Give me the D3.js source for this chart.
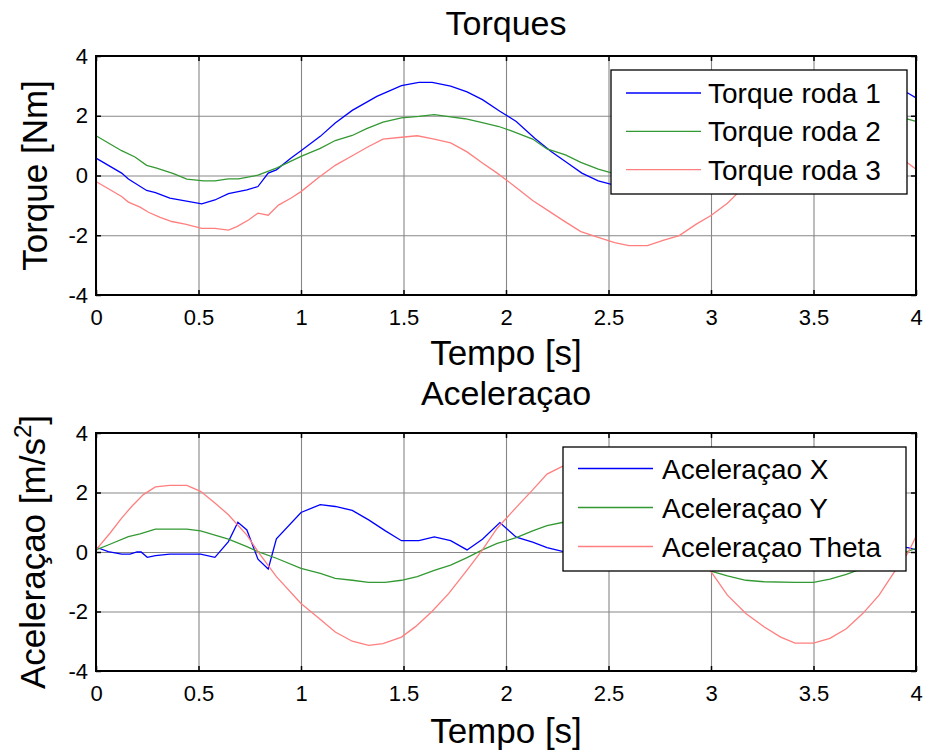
<!DOCTYPE html>
<html><head><meta charset="utf-8">
<script src="https://cdn.jsdelivr.net/npm/d3@7"></script>
<style>
body{margin:0;background:#fff}
svg{display:block}
text{font-family:"Liberation Sans",Arial,sans-serif;fill:#000}
</style>
</head><body>
<svg id="c" width="926" height="756"></svg>
<script>
// ---------- data ----------
const xTicks = [0, 0.5, 1, 1.5, 2, 2.5, 3, 3.5, 4];
const xTickLabels = ["0", "0.5", "1", "1.5", "2", "2.5", "3", "3.5", "4"];
const yTicks = [-4, -2, 0, 2, 4];
const yTickLabels = ["-4", "-2", "0", "2", "4"];

const torque1T = [0, 0.125, 0.158, 0.247, 0.29, 0.36, 0.516, 0.58, 0.646, 0.736, 0.79, 0.84, 0.88, 0.95, 1.0, 1.094, 1.167, 1.25, 1.37, 1.49, 1.575, 1.64, 1.73, 1.81, 1.885, 1.97, 2.05, 2.14, 2.22, 2.30, 2.37, 2.45, 2.51, 2.6, 2.75, 2.9, 3.05, 3.2, 3.35, 3.5, 3.65, 3.75, 3.85, 3.96, 4.0];
const torque1V = [0.58, 0.08, -0.12, -0.5, -0.57, -0.76, -0.95, -0.82, -0.61, -0.48, -0.37, 0.08, 0.19, 0.58, 0.83, 1.31, 1.76, 2.18, 2.65, 3.01, 3.12, 3.12, 2.99, 2.8, 2.54, 2.15, 1.81, 1.25, 0.8, 0.42, 0.08, -0.18, -0.29, -0.33, -0.15, 0.3, 0.9, 1.45, 1.9, 2.3, 2.9, 3.08, 3.0, 2.76, 2.6];

const torque2T = [0, 0.125, 0.19, 0.247, 0.296, 0.378, 0.443, 0.525, 0.58, 0.646, 0.695, 0.79, 0.88, 1.0, 1.094, 1.167, 1.25, 1.32, 1.40, 1.49, 1.575, 1.65, 1.73, 1.80, 1.89, 1.965, 2.02, 2.13, 2.20, 2.29, 2.365, 2.45, 2.51, 2.6, 2.7, 2.85, 3.0, 3.2, 3.4, 3.6, 3.75, 3.85, 3.96, 4.0];
const torque2V = [1.33, 0.83, 0.62, 0.34, 0.25, 0.06, -0.12, -0.18, -0.18, -0.11, -0.11, 0.01, 0.25, 0.64, 0.91, 1.17, 1.34, 1.57, 1.79, 1.93, 1.98, 2.04, 1.96, 1.9, 1.76, 1.64, 1.51, 1.22, 0.89, 0.69, 0.44, 0.21, 0.1, -0.05, -0.12, -0.05, 0.3, 0.9, 1.4, 1.8, 1.95, 1.95, 1.89, 1.81];

const torque3T = [0, 0.125, 0.158, 0.215, 0.256, 0.313, 0.37, 0.435, 0.516, 0.58, 0.646, 0.687, 0.744, 0.79, 0.84, 0.89, 0.95, 1.0, 1.086, 1.167, 1.25, 1.33, 1.40, 1.49, 1.567, 1.65, 1.73, 1.81, 1.885, 1.957, 2.04, 2.13, 2.20, 2.28, 2.365, 2.45, 2.53, 2.60, 2.69, 2.77, 2.845, 2.93, 3.0, 3.08, 3.13, 3.2, 3.3, 3.4, 3.5, 3.6, 3.7, 3.8, 3.9, 3.96, 4.0];
const torque3V = [-0.2, -0.7, -0.89, -1.06, -1.23, -1.4, -1.54, -1.63, -1.77, -1.77, -1.83, -1.71, -1.49, -1.26, -1.33, -0.99, -0.76, -0.54, -0.07, 0.34, 0.66, 0.97, 1.22, 1.28, 1.33, 1.22, 1.09, 0.79, 0.42, 0.08, -0.35, -0.84, -1.15, -1.51, -1.88, -2.07, -2.25, -2.35, -2.35, -2.16, -2.01, -1.62, -1.34, -0.93, -0.59, -0.2, 0.3, 0.7, 1.0, 1.25, 1.3, 1.15, 0.75, 0.42, 0.21];

const accXT = [0, 0.06, 0.125, 0.166, 0.2, 0.22, 0.25, 0.29, 0.36, 0.51, 0.58, 0.646, 0.692, 0.736, 0.79, 0.84, 0.88, 1.0, 1.094, 1.167, 1.25, 1.33, 1.41, 1.49, 1.575, 1.65, 1.73, 1.81, 1.885, 1.97, 2.05, 2.13, 2.20, 2.28, 2.45, 2.6, 2.8, 3.0, 3.2, 3.4, 3.6, 3.8, 3.96, 4.0];
const accXV = [0.16, 0.01, -0.07, -0.07, 0.0, 0.0, -0.18, -0.12, -0.07, -0.07, -0.18, 0.35, 1.0, 0.74, -0.24, -0.57, 0.44, 1.33, 1.59, 1.53, 1.4, 1.08, 0.72, 0.38, 0.38, 0.51, 0.38, 0.07, 0.43, 0.99, 0.5, 0.33, 0.15, 0.01, -0.05, 0.0, 0.2, 0.35, 0.25, 0.1, 0.3, 0.2, 0.15, 0.07];

const accYT = [0, 0.068, 0.158, 0.215, 0.29, 0.443, 0.51, 0.58, 0.646, 0.736, 0.79, 0.88, 1.0, 1.094, 1.167, 1.25, 1.33, 1.41, 1.49, 1.567, 1.65, 1.73, 1.81, 1.885, 1.957, 2.05, 2.13, 2.20, 2.28, 2.4, 2.5, 2.65, 2.8, 2.9, 3.0, 3.08, 3.17, 3.26, 3.41, 3.50, 3.58, 3.66, 3.74, 3.85, 3.93, 4.0];
const accYV = [0.07, 0.26, 0.52, 0.61, 0.77, 0.77, 0.71, 0.57, 0.43, 0.18, 0.01, -0.21, -0.55, -0.72, -0.89, -0.95, -1.02, -1.02, -0.95, -0.83, -0.62, -0.44, -0.19, 0.07, 0.29, 0.48, 0.71, 0.89, 1.0, 1.02, 0.95, 0.6, 0.1, -0.3, -0.64, -0.8, -0.95, -1.0, -1.02, -1.02, -0.91, -0.75, -0.55, -0.32, -0.05, 0.12];

const accThT = [0, 0.068, 0.125, 0.174, 0.231, 0.29, 0.36, 0.443, 0.51, 0.58, 0.646, 0.736, 0.79, 0.88, 1.0, 1.086, 1.167, 1.25, 1.33, 1.40, 1.49, 1.56, 1.64, 1.72, 1.81, 1.885, 1.957, 2.05, 2.13, 2.20, 2.275, 2.35, 2.45, 2.55, 2.65, 2.75, 2.85, 2.92, 3.0, 3.08, 3.17, 3.26, 3.34, 3.41, 3.50, 3.58, 3.66, 3.74, 3.82, 3.90, 3.96, 4.0];
const accThV = [0.07, 0.63, 1.14, 1.53, 1.93, 2.19, 2.24, 2.24, 2.04, 1.65, 1.25, 0.57, 0.01, -0.83, -1.73, -2.22, -2.69, -3.0, -3.14, -3.08, -2.86, -2.5, -1.99, -1.4, -0.61, 0.07, 0.8, 1.5, 2.09, 2.62, 2.88, 3.05, 3.1, 2.9, 2.4, 1.7, 0.9, 0.2, -0.66, -1.45, -2.07, -2.52, -2.86, -3.06, -3.06, -2.9, -2.58, -2.07, -1.45, -0.61, -0.04, 0.52];

const torqueNames = ["Torque roda 1", "Torque roda 2", "Torque roda 3"];
const accNames = ["Aceleraçao X", "Aceleraçao Y", "Aceleraçao Theta"];
const seriesColors = ["#0000ff", "#339933", "#ff7f7f"];

// ---------- drawing ----------
const svg = d3.select("#c");
const FONT = '"Liberation Sans", Arial, sans-serif';

function panel(cfg) {
  const L = 96, R = 916, T = cfg.top, B = cfg.bottom;
  const x = d3.scaleLinear().domain([0, 4]).range([L, R]);
  const y = d3.scaleLinear().domain([-4, 4]).range([B, T]);
  const g = svg.append("g");

  // grid
  const gx = g.append("g").attr("transform", `translate(0,${B})`)
    .call(d3.axisBottom(x).tickValues(xTicks).tickSize(-(B - T)).tickFormat(""));
  const gy = g.append("g").attr("transform", `translate(${L},0)`)
    .call(d3.axisLeft(y).tickValues(yTicks).tickSize(-(R - L)).tickFormat(""));
  [gx, gy].forEach(a => {
    a.select(".domain").remove();
    a.selectAll("line").attr("stroke", "#878787").attr("stroke-width", 1.1);
  });

  // lines
  const line = d3.line().x(d => x(d[0])).y(d => y(d[1]));
  cfg.series.forEach((s, i) => {
    g.append("path").datum(d3.zip(s.t, s.v))
      .attr("fill", "none").attr("stroke", seriesColors[i])
      .attr("stroke-width", 1.3).attr("d", line);
  });

  // axes with inward ticks
  const axB = g.append("g").attr("transform", `translate(0,${B})`)
    .call(d3.axisBottom(x).tickValues(xTicks).tickSizeInner(-5).tickSizeOuter(0).tickPadding(14.5)
      .tickFormat((d, i) => xTickLabels[i]));
  const axT = g.append("g").attr("transform", `translate(0,${T})`)
    .call(d3.axisTop(x).tickValues(xTicks).tickSizeInner(-5).tickSizeOuter(0).tickFormat(""));
  const axL = g.append("g").attr("transform", `translate(${L},0)`)
    .call(d3.axisLeft(y).tickValues(yTicks).tickSizeInner(-5).tickSizeOuter(0).tickPadding(8)
      .tickFormat((d, i) => yTickLabels[i]));
  const axR = g.append("g").attr("transform", `translate(${R},0)`)
    .call(d3.axisRight(y).tickValues(yTicks).tickSizeInner(-5).tickSizeOuter(0).tickFormat(""));
  [axB, axT, axL, axR].forEach(a => {
    a.select(".domain").remove();
    a.selectAll("line").attr("stroke", "#000").attr("stroke-width", 1.5);
    a.selectAll("text").attr("font-size", 22).attr("font-family", FONT).attr("fill", "#000");
  });

  // box
  g.append("rect").attr("x", L).attr("y", T).attr("width", R - L).attr("height", B - T)
    .attr("fill", "none").attr("stroke", "#000").attr("stroke-width", 2);

  // title & labels
  g.append("text").attr("x", (L + R) / 2).attr("y", cfg.titleY).attr("text-anchor", "middle")
    .attr("font-size", 34).text(cfg.title);
  g.append("text").attr("x", (L + R) / 2).attr("y", cfg.xlabelY).attr("text-anchor", "middle")
    .attr("font-size", 35).text("Tempo [s]");
  const yl = g.append("text").attr("transform", `translate(${cfg.ylabelX},${(T + B) / 2}) rotate(-90)`)
    .attr("text-anchor", "middle").attr("font-size", 35);
  cfg.ylabel(yl);

  // legend
  const lg = cfg.legend;
  g.append("rect").attr("x", lg.x).attr("y", lg.y).attr("width", lg.w).attr("height", lg.h)
    .attr("fill", "#fff").attr("stroke", "#000").attr("stroke-width", 1.3);
  cfg.names.forEach((n, i) => {
    const cy = lg.y + lg.first + i * lg.step;
    g.append("line").attr("x1", lg.x + lg.lx0).attr("x2", lg.x + lg.lx1)
      .attr("y1", cy).attr("y2", cy).attr("stroke", seriesColors[i]).attr("stroke-width", 1.3);
    g.append("text").attr("x", lg.x + lg.tx).attr("y", cy + 10).attr("font-size", 28).text(n);
  });
}

panel({
  top: 56, bottom: 295, title: "Torques", titleY: 35, xlabelY: 365, ylabelX: 47,
  series: [{t: torque1T, v: torque1V}, {t: torque2T, v: torque2V}, {t: torque3T, v: torque3V}],
  names: torqueNames,
  ylabel: t => t.text("Torque [Nm]"),
  legend: {x: 611, y: 70, w: 296, h: 124, first: 23, step: 38.3, lx0: 15, lx1: 90, tx: 97}
});

panel({
  top: 433, bottom: 671, title: "Aceleraçao", titleY: 405, xlabelY: 743, ylabelX: 45,
  series: [{t: accXT, v: accXV}, {t: accYT, v: accYV}, {t: accThT, v: accThV}],
  names: accNames,
  ylabel: t => {
    t.append("tspan").text("Aceleraçao [m/s");
    t.append("tspan").attr("font-size", 24).attr("dy", -14).text("2");
    t.append("tspan").attr("dy", 14).text("]");
  },
  legend: {x: 563, y: 447, w: 343, h: 124, first: 21.5, step: 39, lx0: 15, lx1: 90, tx: 99}
});
</script>
</body></html>
